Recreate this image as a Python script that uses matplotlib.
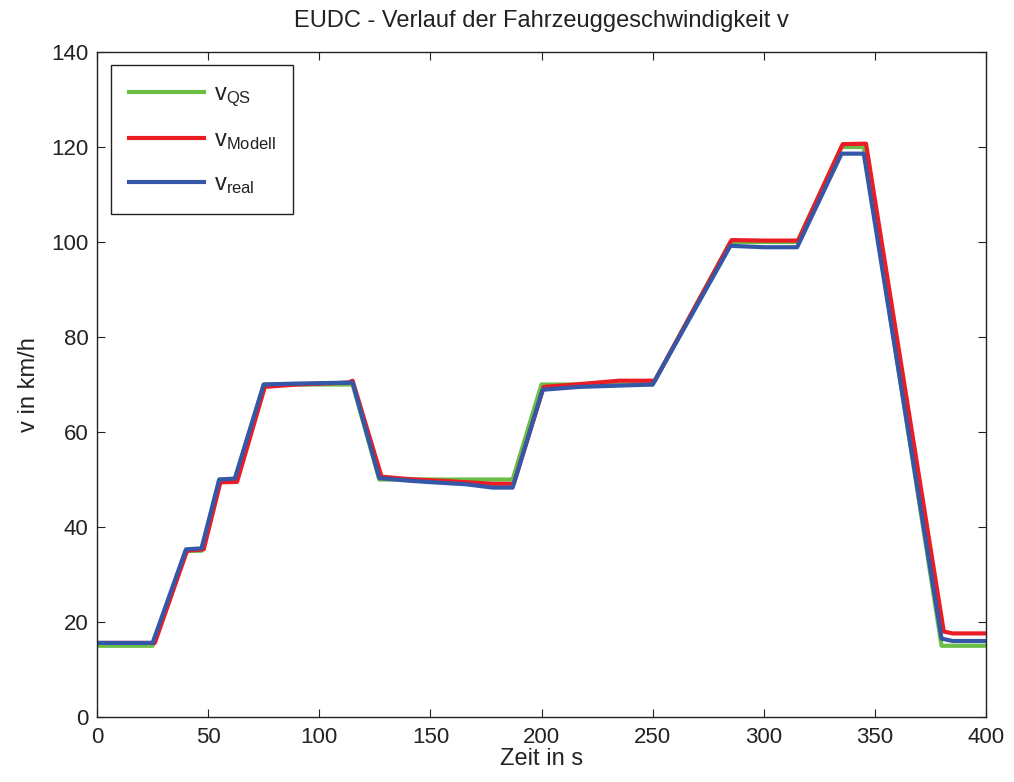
import numpy as np
import matplotlib.pyplot as plt

plt.rcParams['font.family'] = ['Liberation Sans', 'DejaVu Sans']
plt.rcParams['mathtext.fontset'] = 'custom'
plt.rcParams['mathtext.rm'] = 'Liberation Sans'
plt.rcParams['mathtext.it'] = 'Liberation Sans'

# quasi-static reference speed (EUDC)
t_qs = [0, 25, 40, 47, 55, 62, 75, 115, 127, 187, 200, 250, 285, 315, 335, 345, 380, 400]
v_qs = [15, 15, 35, 35, 50, 50, 70, 70, 50, 50, 70, 70, 100, 100, 120, 120, 15, 15]

# simulated model speed
t_mod = [0, 26, 40.5, 48, 55.5, 63, 75.5, 90, 113, 115, 128, 140, 160, 178, 187.5,
         201, 215, 235, 251, 285.5, 300, 315.5, 335.5, 346, 381, 385, 400]
v_mod = [15.6, 15.6, 35, 35.3, 49.4, 49.5, 69.5, 70, 70.4, 70.8, 50.6, 50.1, 49.6, 49.1, 49.1,
         69.5, 70, 70.8, 70.8, 100.4, 100.3, 100.3, 120.6, 120.7, 18, 17.6, 17.6]

# measured vehicle speed
t_real = [0, 25, 40, 47, 55, 62, 75, 90, 115, 127, 139, 148, 166, 178, 187,
          200.5, 217, 250, 285, 300, 315, 335, 345, 380, 385, 400]
v_real = [15.6, 15.6, 35.3, 35.5, 50, 50.2, 70, 70.2, 70.4, 50.3, 49.8, 49.5, 49, 48.3, 48.3,
          68.9, 69.5, 70, 99.2, 98.9, 98.9, 118.6, 118.6, 16.5, 16, 16]

fig = plt.figure(figsize=(10.14, 7.82), dpi=100)
ax = fig.add_axes([0.0957, 0.0831, 0.8767, 0.8504])

ax.plot(t_qs, v_qs, color='#6abd45', linewidth=3, label=r'v$_{\mathrm{QS}}$')
ax.plot(t_mod, v_mod, color='#ec1c24', linewidth=3, label=r'v$_{\mathrm{Modell}}$')
ax.plot(t_real, v_real, color='#3557a7', linewidth=3, label=r'v$_{\mathrm{real}}$')

ax.set_xlim(0, 400)
ax.set_ylim(0, 140)
ax.set_xticks(np.arange(0, 401, 50))
ax.set_yticks(np.arange(0, 141, 20))
ax.tick_params(direction='in', top=True, right=True, length=6, labelsize=16,
               color='#222222', labelcolor='#222222')
ax.tick_params(axis='x', pad=7)
ax.tick_params(axis='y', pad=6)
for s in ax.spines.values():
    s.set_linewidth(1)
    s.set_color('#222222')

ax.set_title('EUDC - Verlauf der Fahrzeuggeschwindigkeit v', fontsize=17, pad=18, color='#222222')
ax.set_xlabel('Zeit in s', fontsize=17, labelpad=0, color='#222222')
ax.set_ylabel('v in km/h', fontsize=17, labelpad=8, color='#222222')

leg = ax.legend(loc='upper left', fontsize=17, handlelength=3.2, handletextpad=0.4,
                fancybox=False, edgecolor='#222222', framealpha=1, borderpad=0.75,
                labelspacing=0.87, borderaxespad=0, bbox_to_anchor=(0.0157, 0.980))
leg.get_frame().set_linewidth(1)
for txt in leg.get_texts():
    txt.set_color('#222222')

fig.savefig('out.png', dpi=100)
